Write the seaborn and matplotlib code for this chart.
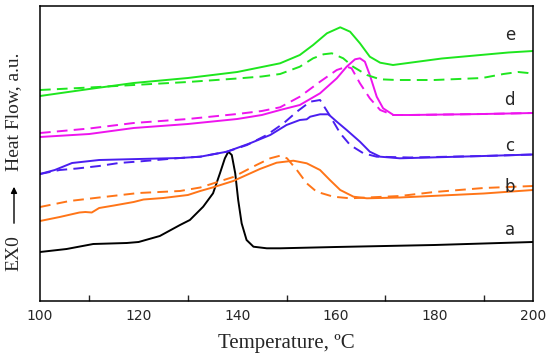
import matplotlib
matplotlib.use("Agg")
import matplotlib.pyplot as plt
import seaborn as sns
import pandas as pd
import numpy as np
from matplotlib.ticker import MultipleLocator

# Curvas DSC (temperatura em ºC, fluxo de calor em u.a.)
t_a = [100, 105.4, 110.8, 117.6, 120, 124.3, 128.4, 130.4, 133.1, 135.1, 136.5, 137.5, 138.2,
       138.9, 139.6, 140.2, 140.9, 141.9, 143.3, 146, 148.7, 160, 180, 200]
hf_a = [4.9, 5.2, 5.7, 5.8, 5.9, 6.5, 7.6, 8.1, 9.43, 10.77, 12.77, 14.27, 14.93,
        14.6, 12.77, 10.1, 7.77, 6.1, 5.43, 5.27, 5.27, 5.4, 5.6, 5.9]

t_b = [100, 104, 108, 109.2, 110.5, 112, 115, 119, 121, 125, 130, 132.5, 135, 139.2, 144.6,
       148, 151.4, 154.1, 156.8, 158.8, 160.9, 163.6, 166.3, 173, 190, 200]
hf_b = [8.0, 8.4, 8.85, 8.9, 8.85, 9.3, 9.55, 9.9, 10.15, 10.3, 10.6, 11.0, 11.35, 12.0, 13.2,
        13.83, 14.03, 13.77, 13.1, 12.1, 11.1, 10.43, 10.27, 10.35, 10.75, 11.1]
t_b2 = [100, 106, 112, 120, 128.4, 132.5, 139.2, 143.9, 146.7, 148.7, 150.1, 152.1, 154.1,
        156.1, 159.5, 162.9, 173, 180, 190, 200]
hf_b2 = [9.4, 10.0, 10.35, 10.8, 11.0, 11.35, 12.4, 13.6, 14.27, 14.53, 14.27, 13.1, 11.77,
         10.93, 10.43, 10.27, 10.5, 10.9, 11.3, 11.5]

t_c = [100, 103, 106.5, 112, 120, 128.4, 132.5, 137.9, 142.6, 146.7, 150, 152.7, 154.1, 154.8,
       156.8, 158.5, 160.2, 162.2, 164.9, 166.9, 169, 173, 190, 200]
hf_c = [12.7, 13.1, 13.8, 14.1, 14.2, 14.3, 14.43, 14.93, 15.77, 16.6, 17.6, 18.1, 18.17, 18.43,
        18.67, 18.67, 17.93, 17.1, 15.93, 14.93, 14.43, 14.27, 14.5, 14.65]
t_c2 = [100, 104, 107.5, 112, 116, 120, 128.4, 132.5, 137.9, 142, 146, 149.4, 152.1, 154.8,
        156.8, 158.5, 160.9, 162.9, 165.6, 168.3, 175, 190, 200]
hf_c2 = [12.7, 13.1, 13.25, 13.5, 13.8, 13.95, 14.3, 14.43, 14.93, 15.6, 16.6, 17.77, 18.93, 19.93,
         20.1, 18.77, 16.77, 15.6, 14.77, 14.43, 14.35, 14.5, 14.65]

t_d = [100, 110, 119, 130, 140, 145, 148.7, 152.7, 156.8, 160.2, 162.2, 163.9, 164.9, 165.9,
       166.9, 168.3, 169.6, 171.7, 175, 190, 200]
hf_d = [16.4, 16.7, 17.3, 17.7, 18.2, 18.6, 19.1, 19.6, 20.77, 22.27, 23.43, 24.17, 24.27, 23.93,
        22.6, 20.43, 19.27, 18.6, 18.6, 18.7, 18.8]
t_d2 = [100, 110, 119, 130, 140, 145, 148.7, 152.7, 156.8, 160.2, 162.2, 163.2, 164.9, 166.9,
        169, 171.6, 175, 190, 200]
hf_d2 = [16.8, 17.25, 17.8, 18.2, 18.7, 19.0, 19.37, 20.43, 21.93, 23.1, 23.43, 23.27, 21.77,
         20.27, 19.1, 18.6, 18.6, 18.7, 18.8]

t_e = [100, 110, 119, 130, 140, 145, 148.7, 152.7, 155.4, 158.2, 160.9, 162.9, 164.9, 166.9,
       169, 171.6, 181.5, 195, 200]
hf_e = [20.5, 21.2, 21.8, 22.3, 22.9, 23.4, 23.77, 24.6, 25.6, 26.77, 27.37, 26.93, 25.77, 24.43,
        23.83, 23.6, 24.25, 24.85, 25.0]
t_e2 = [100, 110, 119, 130, 140, 145, 148.7, 152.7, 155.4, 157.5, 159.2, 161.5, 163.5, 166.3,
        169, 172.4, 180, 189.7, 194, 197, 199, 200]
hf_e2 = [21.1, 21.35, 21.6, 21.9, 22.25, 22.45, 22.7, 23.43, 24.27, 24.67, 24.77, 24.27, 23.43,
         22.6, 22.17, 22.1, 22.1, 22.3, 22.7, 22.9, 22.8, 22.7]

curvas = [
    (t_a, hf_a, "#000000", "-"),
    (t_b, hf_b, "#ff7518", "-"),
    (t_b2, hf_b2, "#ff7518", "--"),
    (t_c, hf_c, "#4a1ef0", "-"),
    (t_c2, hf_c2, "#4a1ef0", "--"),
    (t_d, hf_d, "#ee14ee", "-"),
    (t_d2, hf_d2, "#ee14ee", "--"),
    (t_e, hf_e, "#1ee61e", "-"),
    (t_e2, hf_e2, "#1ee61e", "--"),
]
rotulos = ["a", "b", "c", "d", "e"]
y_rotulos = [7.1, 11.4, 15.5, 20.1, 26.6]

sns.set_style("ticks")

fig = plt.figure(figsize=(5.5, 3.62), dpi=100)
ax = fig.add_axes([40 / 550, 61 / 362, 493 / 550, 295 / 362])

for t, hf, cor, estilo in curvas:
    df = pd.DataFrame({"T": t, "HF": hf})
    sns.lineplot(data=df, x="T", y="HF", ax=ax, color=cor, linewidth=1.4,
                 sort=False, estimator=None)
    ax.lines[-1].set_solid_joinstyle("round")
    if estilo == "--":
        ax.lines[-1].set_dashes((5.5, 3.2))

for r, y in zip(rotulos, y_rotulos):
    ax.text(195.3, y, r, fontsize=12, ha="center", va="center", family="DejaVu Sans")

ax.set_xlim(100, 200)
ax.set_ylim(0, 29.5)
ax.set_yticks([])
ax.xaxis.set_major_locator(MultipleLocator(20))
ax.xaxis.set_minor_locator(MultipleLocator(10))
ax.tick_params(axis="x", which="major", length=0, pad=6, labelsize=10)
ax.tick_params(axis="x", which="minor", direction="in", length=4, width=1)
for lbl in ax.get_xticklabels():
    lbl.set_family("DejaVu Sans")
for s in ax.spines.values():
    s.set_visible(True)
    s.set_linewidth(1.1)
    s.set_color("black")

ax.set_xlabel("Temperature, ºC", family="Liberation Serif", fontsize=15, labelpad=8)
ax.set_ylabel("")

# rótulo do eixo y: EX0 -> Heat Flow, a.u.
fig.text(14 / 550, (362 - 253.5) / 362, "EX0", rotation=90, ha="center", va="center",
         family="Liberation Serif", fontsize=14)
fig.text(14 / 550, (362 - 112) / 362, "Heat Flow, a.u.", rotation=90, ha="center", va="center",
         family="Liberation Serif", fontsize=14)
ax.annotate("", xy=(14 / 550, (362 - 184) / 362), xytext=(14 / 550, (362 - 226) / 362),
            xycoords="figure fraction", textcoords="figure fraction",
            arrowprops=dict(arrowstyle="-|>", color="black", lw=1.0, mutation_scale=9))

fig.savefig("out.png", dpi=100)
